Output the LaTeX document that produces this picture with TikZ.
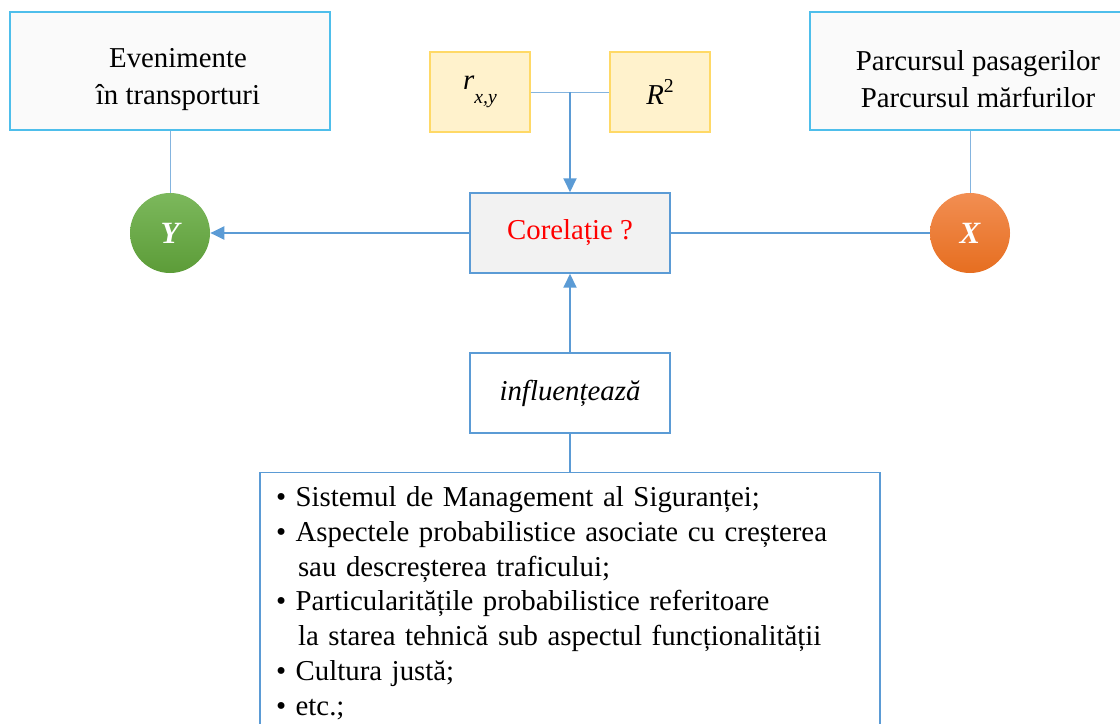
\documentclass[tikz,border=0pt]{standalone}
\usepackage{fontspec}
\setmainfont{Liberation Serif}
\usepackage{tikz}
\usetikzlibrary{arrows.meta, positioning, calc}
\definecolor{topblue}{RGB}{78,190,235}
\definecolor{lineblue}{RGB}{91,155,213}
\definecolor{coefborder}{RGB}{255,217,102}
\definecolor{coeffill}{RGB}{255,242,204}
\definecolor{boxgray}{RGB}{242,242,242}
\definecolor{ytop}{RGB}{124,184,92}
\definecolor{ybot}{RGB}{92,156,56}
\definecolor{xtop}{RGB}{242,142,82}
\definecolor{xbot}{RGB}{230,110,32}

\begin{document}
\begin{tikzpicture}[
    every node/.style={font=\fontsize{20.5}{24.7}\selectfont},
    topbox/.style={draw=topblue, fill=black!2, line width=1pt, minimum width=8cm, minimum height=2.95cm, align=center},
    coefbox/.style={draw=coefborder, fill=coeffill, line width=0.8pt, minimum width=2.5cm, minimum height=2cm},
    midbox/.style={draw=lineblue, line width=1pt, minimum width=5cm, minimum height=2cm},
    var/.style={circle, minimum size=2cm, text=white, shading=axis, font=\fontsize{22}{26}\selectfont\bfseries\itshape},
    link/.style={draw=lineblue!75, line width=0.7pt},
    arr/.style={draw=lineblue, line width=1.8pt, -{Triangle[length=3.5mm, width=3.2mm]}}
  ]
  \useasboundingbox (0,0) rectangle (28,-18.1);
  \clip (0,0) rectangle (28,-18.1);

  % Top: the two measured quantities
  \node[topbox] (even) at (4.25,-1.775) {\rule{0pt}{0.9cm}\hspace*{0.4cm}Evenimente\\[1.5pt]\hspace*{0.4cm}în transporturi};
  \node[topbox] (parc) at (24.25,-1.775) {\rule{0pt}{0.9cm}\hspace*{0.4cm}Parcursul pasagerilor\\[1.5pt]\hspace*{0.4cm}Parcursul mărfurilor};

  % Coefficients
  \node[coefbox] (rxy) at (12,-2.3) {\textit{r}\raisebox{-1.1ex}{\fontsize{14}{14}\selectfont\textit{x,y}}};
  \node[coefbox] (rsq) at (16.5,-2.3) {\textit{R}\raisebox{0.9ex}{\fontsize{14}{14}\selectfont 2}};
  \coordinate (coef) at ($(rxy.east)!0.5!(rsq.west)$);

  % Middle row
  \node[midbox, fill=boxgray, text=red] (cor) at (14.25,-5.825) {Corelație ?};
  \node[var, top color=ytop, bottom color=ybot] (vy) at (4.25,-5.825) {Y};
  \node[var, top color=xtop, bottom color=xbot] (vx) at (24.25,-5.825) {X};

  \node[midbox, fill=white] (infl) at (14.25,-9.825) {\textit{influențează}};

  % Bottom: factors
  \node[draw=lineblue, line width=1pt, fill=white, anchor=north, minimum width=15.5cm,
        text width=14.7cm, inner xsep=0.4cm, inner ysep=0.35cm, align=left] (fact) at (14.25,-11.8) {%
    • Sistemul de Management al Siguranței;\\
    • Aspectele probabilistice asociate cu creșterea\\
    \hspace*{0.55cm}sau descreșterea traficului;\\
    • Particularitățile probabilistice referitoare\\
    \hspace*{0.55cm}la starea tehnică sub aspectul funcționalității\\
    • Cultura justă;\\
    • etc.;};

  % Connectors
  \draw[link] (even.south) -- (vy.north);
  \draw[link] (parc.south) -- (vx.north);
  \draw[link] (rxy.east) -- (rsq.west);
  \draw[arr] (coef) -- (cor.north);
  \draw[arr] (cor.west) -- (vy.east);
  \draw[lineblue, line width=1.8pt] (vx.west) -- (cor.east);
  \draw[arr] (infl.north) -- (cor.south);
  \draw[lineblue, line width=1.8pt] (infl.south) -- (fact.north);
\end{tikzpicture}
\end{document}
